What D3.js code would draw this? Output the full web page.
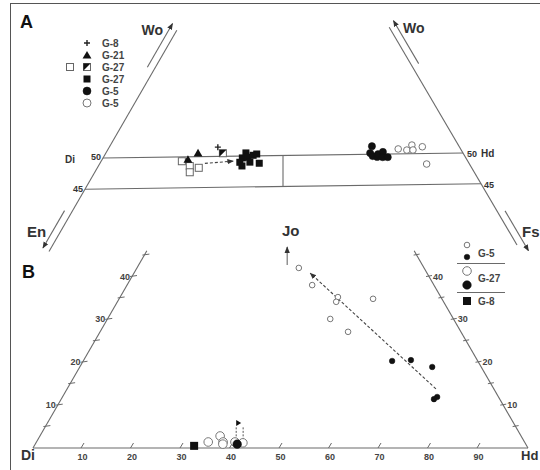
<!DOCTYPE html>
<html>
<head>
<meta charset="utf-8">
<script src="https://cdn.jsdelivr.net/npm/d3@7"></script>
<style>
body { margin: 0; background: #fff; }
svg { display: block; font-family: Arial, "Liberation Sans", sans-serif; font-weight: bold; }
</style>
</head>
<body>
<div id="chart"></div>
<script>
// ---- Panel A data: [Wo, Fs] (mol %) ----
const aG8 = [[51.5, 15.2]];
const aG21 = [[50.6, 12.9], [49.6, 12.0]];
const aG27Open = [[49.3, 11.3], [48.5, 12.8], [47.5, 13.3], [48.2, 14.2]];
const aG27Half = [[50.5, 16.4]];
const aG27Fill = [[49.7, 19.5], [50.5, 19.6], [49.0, 19.5], [48.4, 20.1], [49.8, 20.2],
                  [50.1, 20.8], [50.3, 21.2], [48.8, 22.3], [49.0, 20.9]];
const aG5Fill = [[51.3, 36.7], [50.2, 37.0], [49.7, 37.6], [49.55, 38.3], [50.0, 38.2],
                 [50.35, 38.7], [49.5, 39.1], [49.5, 39.8]];
const aG5Open = [[50.8, 40.6], [50.6, 41.9], [51.4, 42.2], [50.6, 42.75], [51.1, 43.8], [48.3, 45.8]];
const aTrend = [[48.9, 14.7], [49.2, 18.5]];

// ---- Panel B data: [Hd, Jo] (mol %) ----
const bG5Open = [[32.7, 42.0], [37.4, 38.0], [44.0, 35.2], [44.2, 34.1], [51.3, 34.8], [45.0, 30.1], [50.1, 27.1]];
const bG5Fill = [[62.4, 20.3], [66.1, 20.5], [71.2, 18.9], [75.3, 11.4], [75.7, 11.9]];
const bG27Open = [[34.7, 1.4], [36.4, 2.8], [37.7, 1.4], [37.9, 0.9], [40.1, 1.4], [41.8, 1.2]];
const bG27Fill = [[40.8, 0.9]];
const bG8 = [[32.3, 0.5]];
const bTrend = [[74.5, 13.8], [35.6, 40.8]];
const bJoArrow = [[30.0, 42.7], [27.9, 46.9]];
const bFlag = [[[40.1, 1.9], [38.6, 4.9]], [[41.5, 1.9], [40.0, 4.9]]];

const baseTicks = [10, 20, 30, 40, 50, 60, 70, 80, 90];
const sideTicks = [5, 10, 15, 20, 25, 30, 35, 40, 45];
const sideLabels = [10, 20, 30, 40];

const W = 540, H = 470;
const ink = "#6a6a6a", dark = "#111", txt = "#333";

const svg = d3.select("#chart").append("svg").attr("width", W).attr("height", H);

svg.append("defs").append("marker")
    .attr("id", "ah").attr("viewBox", "0 0 10 10")
    .attr("refX", 9).attr("refY", 5)
    .attr("markerWidth", 6).attr("markerHeight", 6)
    .attr("orient", "auto")
  .append("path").attr("d", "M0,1L10,5L0,9Z").attr("fill", "#333");

// frame (only top and left edges fall inside the picture)
svg.append("rect").attr("x", 10.5).attr("y", 3.5).attr("width", 560).attr("height", 500)
    .attr("fill", "none").attr("stroke", "#555");

const line = d3.line();

// ---- Panel A: ternary En-Fs-Wo, Wo apex ----
const aFs = d3.scaleLinear().domain([0, 100]).range([0, 720]);
const aWo = d3.scaleLinear().domain([0, 100]).range([0, 623.5]);
const projA = (wo, fs) => [-77 + aFs(fs) + aWo(wo) * 0.5774, 469.75 - aFs(fs) / 72 - aWo(wo)];

const gA = svg.append("g");
const stroke = (sel, w) => sel.attr("fill", "none").attr("stroke", ink).attr("stroke-width", w || 1.1);

stroke(gA.append("path").attr("d", line([projA(35, 0), projA(70.5, 0)])));
stroke(gA.append("path").attr("d", line([projA(35, 65), projA(70.5, 29.5)])));
stroke(gA.append("path").attr("d", line([projA(50, 0), projA(50, 50)])));
stroke(gA.append("path").attr("d", line([projA(45, 0), projA(45, 55)])));
stroke(gA.append("path").attr("d", line([projA(50, 25), projA(45, 27.5)])));

// side arrows, offset outward
const off = (p, n, d) => [p[0] + n[0] * d, p[1] + n[1] * d];
const nL = [-0.866, -0.5], nR = [0.866, -0.5];
const arrow = (g, pts, dash) => {
  const p = g.append("path").attr("d", line(pts)).attr("fill", "none")
      .attr("stroke", dash ? "#444" : ink).attr("stroke-width", 1.1)
      .attr("marker-end", "url(#ah)");
  if (dash) p.attr("stroke-dasharray", "3,2");
  return p;
};
arrow(gA, [off(projA(64, 0), nL, 7), off(projA(71, 0), nL, 7)]);
arrow(gA, [off(projA(41, 0), nL, 7), off(projA(35, 0), nL, 7)]);
arrow(gA, [off(projA(64, 36), nR, 7), off(projA(71, 29), nR, 7)]);
arrow(gA, [off(projA(40, 60), nR, 7), off(projA(33.5, 66.5), nR, 7)]);

// A labels
const label = (g, x, y, s, size, anchor, fill) => g.append("text")
    .attr("x", x).attr("y", y).attr("font-size", size).attr("fill", fill || txt)
    .attr("text-anchor", anchor || "start").text(s);
label(gA, 20, 28, "A", 18, "start", "#111");
label(gA, 163, 35, "Wo", 14, "end");
label(gA, 403, 33, "Wo", 14);
label(gA, 27, 237, "En", 15);
label(gA, 522, 237, "Fs", 15);
const di = projA(50, 0), hd = projA(50, 50), l45 = projA(45, 0), r45 = projA(45, 55);
label(gA, di[0] - 38, di[1] + 5, "Di", 10);
label(gA, di[0] - 2, di[1] + 2, "50", 9, "end");
label(gA, l45[0] - 2, l45[1] + 3, "45", 9, "end");
label(gA, hd[0] + 4, hd[1] + 4, "50", 9);
label(gA, hd[0] + 18, hd[1] + 4, "Hd", 10);
label(gA, r45[0] + 3, r45[1] + 4, "45", 9);

// symbol helpers
function plus(g, x, y) {
  g.append("path").attr("d", `M${x - 3},${y}H${x + 3}M${x},${y - 3}V${y + 3}`)
      .attr("stroke", "#222").attr("stroke-width", 1.4);
}
function tri(g, x, y) {
  g.append("path").attr("transform", `translate(${x},${y + 1})`)
      .attr("d", d3.symbol(d3.symbolTriangle, 34)()).attr("fill", dark);
}
function sqOpen(g, x, y) {
  g.append("rect").attr("x", x - 3.5).attr("y", y - 3.5).attr("width", 7).attr("height", 7)
      .attr("fill", "#fff").attr("stroke", "#666").attr("stroke-width", 1);
}
function sqFill(g, x, y, s) {
  s = s || 7;
  g.append("rect").attr("x", x - s / 2).attr("y", y - s / 2).attr("width", s).attr("height", s)
      .attr("fill", dark);
}
function sqHalf(g, x, y) {
  sqOpen(g, x, y);
  g.append("path").attr("d", `M${x - 3.5},${y - 3.5}H${x + 3.5}L${x - 3.5},${y + 3.5}Z`).attr("fill", dark);
}
function circ(g, x, y, r, filled) {
  g.append("circle").attr("cx", x).attr("cy", y).attr("r", r)
      .attr("fill", filled ? dark : "#fff").attr("stroke", filled ? dark : "#777")
      .attr("stroke-width", filled ? 0.5 : 1);
}

// A points
arrow(gA, aTrend.map(d => projA(d[0], d[1])), true);
aG27Open.forEach(d => { const p = projA(d[0], d[1]); sqOpen(gA, p[0], p[1]); });
aG21.forEach(d => { const p = projA(d[0], d[1]); tri(gA, p[0], p[1]); });
aG8.forEach(d => { const p = projA(d[0], d[1]); plus(gA, p[0], p[1]); });
aG27Half.forEach(d => { const p = projA(d[0], d[1]); sqHalf(gA, p[0], p[1]); });
aG27Fill.forEach(d => { const p = projA(d[0], d[1]); sqFill(gA, p[0], p[1]); });
aG5Fill.forEach(d => { const p = projA(d[0], d[1]); circ(gA, p[0], p[1], 3.6, true); });
aG5Open.forEach(d => { const p = projA(d[0], d[1]); circ(gA, p[0], p[1], 3.3, false); });

// A legend
const legA = svg.append("g").attr("transform", "translate(87,0)");
plus(legA, 0, 43); tri(legA, 0, 55); sqOpen(legA, -17, 67); sqHalf(legA, 0, 67);
sqFill(legA, 0, 79); circ(legA, 0, 91, 4, true); circ(legA, 0, 103, 4, false);
["G-8", "G-21", "G-27", "G-27", "G-5", "G-5"].forEach((s, i) =>
  label(legA, 15, 47 + i * 12, s, 10, "start", "#444"));

// ---- Panel B: ternary Di-Hd-Jo ----
const bX = d3.scaleLinear().domain([0, 100]).range([33, 528]);
const bJ = d3.scaleLinear().domain([0, 100]).range([448, 448 - 428.7]);
const projB = (hdv, jo) => [bX(hdv + jo / 2), bJ(jo)];
const gB = svg.append("g");

stroke(gB.append("path").attr("d", line([projB(0, 0), projB(100, 0)])));
stroke(gB.append("path").attr("d", line([projB(0, 0), projB(0, 46)])));
stroke(gB.append("path").attr("d", line([projB(100, 0), projB(54, 46)])));

baseTicks.forEach(t => {
  const p = projB(t, 0);
  stroke(gB.append("path").attr("d", line([[p[0] - 1.5, p[1]], [p[0] + 1.5, p[1] - 5]])), 1);
  label(gB, p[0], p[1] + 12, t, 9, "middle", "#444");
});
sideTicks.forEach(t => {
  const pl = projB(0, t), pr = projB(100 - t, t);
  stroke(gB.append("path").attr("d", line([[pl[0] - 2, pl[1]], [pl[0] + 5, pl[1] - 1]])), 1);
  stroke(gB.append("path").attr("d", line([[pr[0] - 3, pr[1]], [pr[0] + 3, pr[1] - 1]])), 1);
});
sideLabels.forEach(t => {
  const pl = projB(0, t), pr = projB(100 - t, t);
  label(gB, pl[0] - 2, pl[1] + 3, t, 9, "end", "#444");
  label(gB, pr[0] + 4, pr[1] + 3, t, 9, "start", "#444");
});

label(gB, 22, 278, "B", 18, "start", "#111");
label(gB, 21, 460, "Di", 14);
label(gB, 521, 460, "Hd", 13);
label(gB, 282, 236, "Jo", 15);

stroke(gB.append("path").attr("d", line(bJoArrow.map(d => projB(d[0], d[1]))))
    .attr("stroke", "#444")).attr("marker-end", "url(#ah)");
arrow(gB, bTrend.map(d => projB(d[0], d[1])), true);
bFlag.forEach(seg => {
  gB.append("path").attr("d", line(seg.map(d => projB(d[0], d[1]))))
      .attr("fill", "none").attr("stroke", "#555").attr("stroke-dasharray", "2,1.5");
});
const ft = projB(bFlag[0][1][0], bFlag[0][1][1]);
gB.append("path").attr("d", `M${ft[0]},${ft[1] - 1}V${ft[1] - 7}L${ft[0] + 5},${ft[1] - 4}Z`).attr("fill", dark);

bG5Open.forEach(d => { const p = projB(d[0], d[1]); circ(gB, p[0], p[1], 2.8, false); });
bG5Fill.forEach(d => { const p = projB(d[0], d[1]); circ(gB, p[0], p[1], 2.8, true); });
bG8.forEach(d => { const p = projB(d[0], d[1]); sqFill(gB, p[0], p[1], 8); });
bG27Open.forEach(d => { const p = projB(d[0], d[1]); circ(gB, p[0], p[1], 4.3, false); });
bG27Fill.forEach(d => { const p = projB(d[0], d[1]); circ(gB, p[0], p[1], 4.3, true); });

// B legend
const legB = svg.append("g").attr("transform", "translate(467,0)");
circ(legB, 0, 245, 2.8, false); circ(legB, 0, 257, 2.8, true);
stroke(legB.append("path").attr("d", "M-10,263.5H38"), 1);
circ(legB, 0, 271, 4.3, false); circ(legB, 0, 285, 4.3, true);
stroke(legB.append("path").attr("d", "M-10,292.5H38"), 1);
sqFill(legB, 0, 301, 8);
label(legB, 11, 257, "G-5", 10, "start", "#444");
label(legB, 11, 282, "G-27", 10, "start", "#444");
label(legB, 11, 305, "G-8", 10, "start", "#444");
</script>
</body>
</html>
